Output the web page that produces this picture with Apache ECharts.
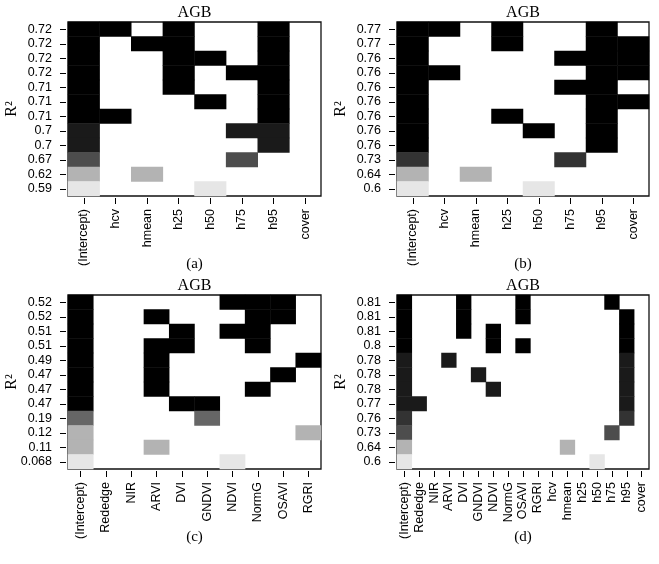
<!DOCTYPE html>
<html>
<head>
<meta charset="utf-8">
<script src="https://cdn.jsdelivr.net/npm/echarts@6/dist/echarts.min.js"></script>
<style>
html, body { margin: 0; padding: 0; background: #fff; }
#main { width: 659px; height: 564px; }
</style>
</head>
<body>
<div id="main"></div>
<script>
// variables (columns) of each panel
let varsAB = ['(Intercept)', 'hcv', 'hmean', 'h25', 'h50', 'h75', 'h95', 'cover'];
let varsC = ['(Intercept)', 'Rededge', 'NIR', 'ARVI', 'DVI', 'GNDVI', 'NDVI', 'NormG', 'OSAVI', 'RGRI'];
let varsD = ['(Intercept)', 'Rededge', 'NIR', 'ARVI', 'DVI', 'GNDVI', 'NDVI', 'NormG', 'OSAVI', 'RGRI',
             'hcv', 'hmean', 'h25', 'h50', 'h75', 'h95', 'cover'];

// R2 labels, top row first, and grey level of each row (0 = black ... 9 = lightest)
let r2A = ['0.72', '0.72', '0.72', '0.72', '0.71', '0.71', '0.71', '0.7', '0.7', '0.67', '0.62', '0.59'];
let shadeA = [0, 0, 0, 0, 0, 0, 0, 1, 1, 3, 7, 9];
let modelsA = [
    ['(Intercept)', 'hcv', 'h25', 'h95'],
    ['(Intercept)', 'hmean', 'h25', 'h95'],
    ['(Intercept)', 'h25', 'h50', 'h95'],
    ['(Intercept)', 'h25', 'h75', 'h95'],
    ['(Intercept)', 'h25', 'h95'],
    ['(Intercept)', 'h50', 'h95'],
    ['(Intercept)', 'hcv', 'h95'],
    ['(Intercept)', 'h75', 'h95'],
    ['(Intercept)', 'h95'],
    ['(Intercept)', 'h75'],
    ['(Intercept)', 'hmean'],
    ['(Intercept)', 'h50']
];

let r2B = ['0.77', '0.77', '0.76', '0.76', '0.76', '0.76', '0.76', '0.76', '0.76', '0.73', '0.64', '0.6'];
let shadeB = [0, 0, 0, 0, 0, 0, 0, 0, 0, 2, 7, 9];
let modelsB = [
    ['(Intercept)', 'hcv', 'h25', 'h95'],
    ['(Intercept)', 'h25', 'h95', 'cover'],
    ['(Intercept)', 'h75', 'h95', 'cover'],
    ['(Intercept)', 'hcv', 'h95', 'cover'],
    ['(Intercept)', 'h75', 'h95'],
    ['(Intercept)', 'h95', 'cover'],
    ['(Intercept)', 'h25', 'h95'],
    ['(Intercept)', 'h50', 'h95'],
    ['(Intercept)', 'h95'],
    ['(Intercept)', 'h75'],
    ['(Intercept)', 'hmean'],
    ['(Intercept)', 'h50']
];

let r2C = ['0.52', '0.52', '0.51', '0.51', '0.49', '0.47', '0.47', '0.47', '0.19', '0.12', '0.11', '0.068'];
let shadeC = [0, 0, 0, 0, 0, 0, 0, 0, 4, 7, 7, 9];
let modelsC = [
    ['(Intercept)', 'NDVI', 'NormG', 'OSAVI'],
    ['(Intercept)', 'ARVI', 'NormG', 'OSAVI'],
    ['(Intercept)', 'DVI', 'NDVI', 'NormG'],
    ['(Intercept)', 'ARVI', 'DVI', 'NormG'],
    ['(Intercept)', 'ARVI', 'RGRI'],
    ['(Intercept)', 'ARVI', 'OSAVI'],
    ['(Intercept)', 'ARVI', 'NormG'],
    ['(Intercept)', 'DVI', 'GNDVI'],
    ['(Intercept)', 'GNDVI'],
    ['(Intercept)', 'RGRI'],
    ['(Intercept)', 'ARVI'],
    ['(Intercept)', 'NDVI']
];

let r2D = ['0.81', '0.81', '0.81', '0.8', '0.78', '0.78', '0.78', '0.77', '0.76', '0.73', '0.64', '0.6'];
let shadeD = [0, 0, 0, 0, 1, 1, 1, 1, 2, 3, 7, 9];
let modelsD = [
    ['(Intercept)', 'DVI', 'OSAVI', 'h75'],
    ['(Intercept)', 'DVI', 'OSAVI', 'h95'],
    ['(Intercept)', 'DVI', 'NDVI', 'h95'],
    ['(Intercept)', 'NDVI', 'OSAVI', 'h95'],
    ['(Intercept)', 'ARVI', 'h95'],
    ['(Intercept)', 'GNDVI', 'h95'],
    ['(Intercept)', 'NDVI', 'h95'],
    ['(Intercept)', 'Rededge', 'h95'],
    ['(Intercept)', 'h95'],
    ['(Intercept)', 'h75'],
    ['(Intercept)', 'hmean'],
    ['(Intercept)', 'h50']
];

let panels = [
    { vars: varsAB, r2: r2A, shade: shadeA, models: modelsA, tag: '(a)', left: 68, top: 22, width: 253 },
    { vars: varsAB, r2: r2B, shade: shadeB, models: modelsB, tag: '(b)', left: 397, top: 22, width: 252 },
    { vars: varsC, r2: r2C, shade: shadeC, models: modelsC, tag: '(c)', left: 68, top: 295, width: 253 },
    { vars: varsD, r2: r2D, shade: shadeD, models: modelsD, tag: '(d)', left: 397, top: 295, width: 252 }
];
let plotH = 174;

function cells(p) {
    let out = [];
    p.models.forEach(function (m, row) {
        m.forEach(function (v) {
            out.push([p.vars.indexOf(v), row, p.shade[row]]);
        });
    });
    return out;
}

let sans = 'Liberation Sans, Arial, sans-serif';
let serif = 'Liberation Serif, Times New Roman, serif';

let grids = [], xAxes = [], yAxes = [], series = [], texts = [];
panels.forEach(function (p, i) {
    grids.push({
        left: p.left, top: p.top, width: p.width, height: plotH,
        show: true, borderColor: '#111', borderWidth: 1.3, backgroundColor: '#fff'
    });
    xAxes.push({
        type: 'category', gridIndex: i, data: p.vars, position: 'bottom', offset: 2,
        axisLine: { show: false },
        axisTick: { show: true, alignWithLabel: true, interval: 0, length: 6, lineStyle: { color: '#000' } },
        axisLabel: { rotate: 90, interval: 0, margin: 11, fontSize: 12.5, color: '#000', fontFamily: sans },
        splitLine: { show: false }, splitArea: { show: false }
    });
    yAxes.push({
        type: 'category', gridIndex: i, inverse: true, offset: 2,
        data: p.r2.map(function (v, k) { return String(k); }),
        axisLine: { show: false },
        axisTick: { show: true, alignWithLabel: true, interval: 0, length: 6, lineStyle: { color: '#000' } },
        axisLabel: {
            interval: 0, margin: 14, fontSize: 12.5, color: '#000', fontFamily: sans,
            formatter: function (v, k) { return p.r2[k]; }
        },
        splitLine: { show: false }, splitArea: { show: false }
    });
    series.push({
        type: 'heatmap', xAxisIndex: i, yAxisIndex: i, data: cells(p),
        itemStyle: { borderWidth: 0 }, emphasis: { disabled: true }, animation: false
    });
    let cx = p.left + p.width / 2;
    texts.push({ type: 'text', x: cx, y: p.top - 9, style: { text: 'AGB', font: '16px ' + serif, fill: '#000', align: 'center', verticalAlign: 'middle' } });
    texts.push({ type: 'text', x: cx, y: p.top + 242, style: { text: p.tag, font: '15px ' + serif, fill: '#000', align: 'center', verticalAlign: 'middle' } });
    texts.push({ type: 'text', x: p.left - 56, y: p.top + plotH / 2, rotation: Math.PI / 2, style: { text: 'R²', font: '16px ' + serif, fill: '#000', align: 'center', verticalAlign: 'middle' } });
});

let greys = [0, 1, 2, 3, 4, 5, 6, 7, 8, 9];
let chart = echarts.init(document.getElementById('main'));
chart.setOption({
    backgroundColor: '#fff',
    animation: false,
    grid: grids,
    xAxis: xAxes,
    yAxis: yAxes,
    visualMap: {
        type: 'piecewise', show: false, dimension: 2, seriesIndex: [0, 1, 2, 3],
        pieces: greys.map(function (k) {
            let g = Math.round(255 * k / 10);
            return { value: k, color: 'rgb(' + g + ',' + g + ',' + g + ')' };
        })
    },
    graphic: texts,
    series: series
});
</script>
</body>
</html>
